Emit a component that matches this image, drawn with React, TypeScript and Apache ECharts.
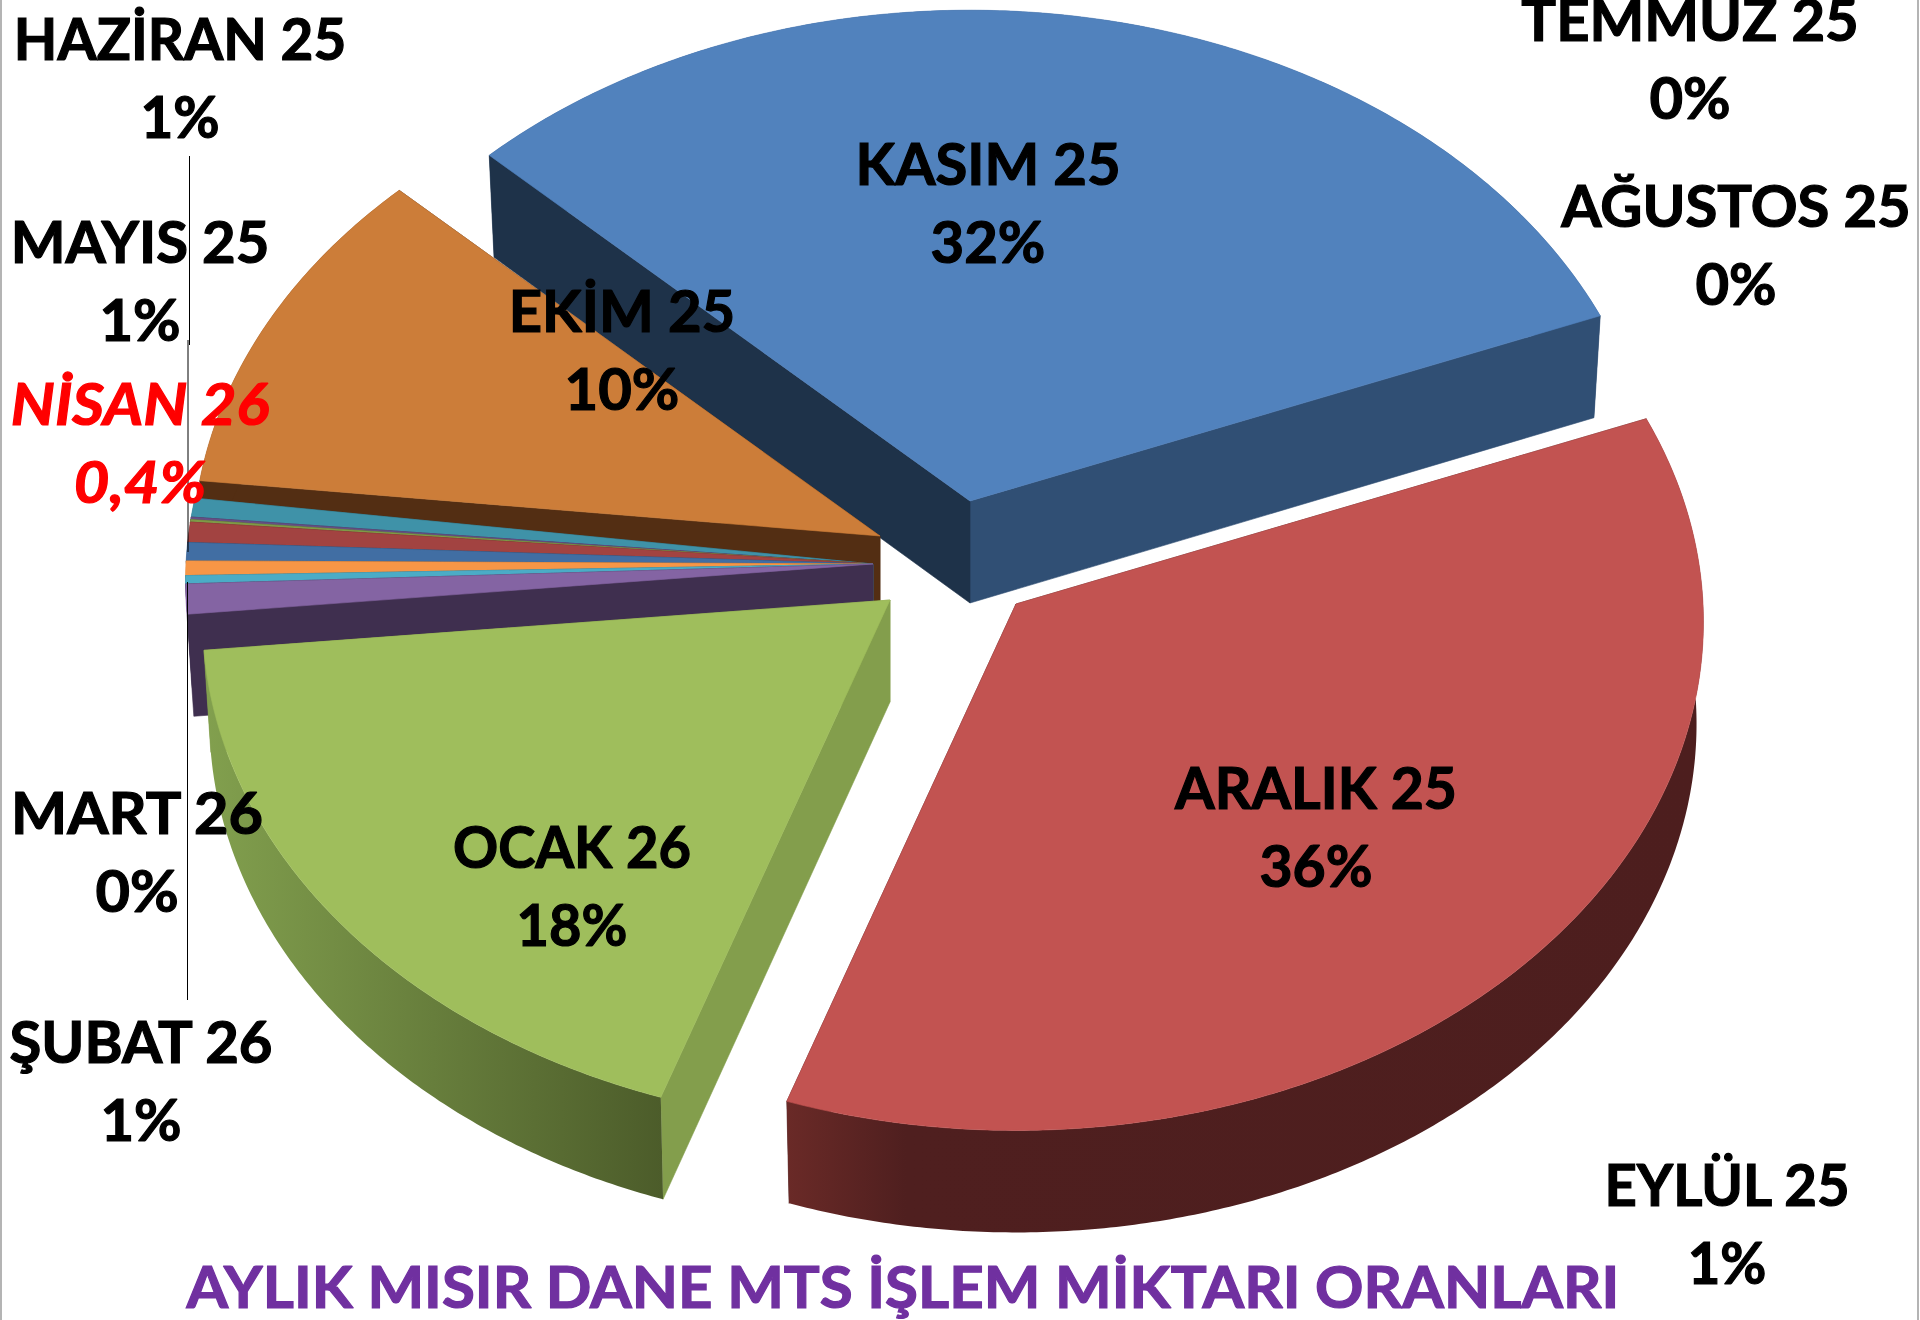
import React, { useEffect, useRef } from "react";
import * as echarts from "echarts";

// Slices clockwise, beginning at the KASIM 25 slice.
const months = ["KASIM 25", "ARALIK 25", "OCAK 26", "ŞUBAT 26", "MART 26", "NİSAN 26", "MAYIS 25", "HAZİRAN 25", "TEMMUZ 25", "AĞUSTOS 25", "EYLÜL 25", "EKİM 25"];
const shares = [31.7, 36.25, 18.2, 0.95, 0.26, 0.46, 0.58, 0.64, 0.08, 0.08, 0.6, 10.2];
const percentLabels = ["32%", "36%", "18%", "1%", "0%", "0,4%", "1%", "1%", "0%", "0%", "1%", "10%"];
const titleText = "AYLIK MISIR DANE MTS İŞLEM MİKTARI ORANLARI";

// Style and layout, indexed like months.
const topColors = ["#5182bd", "#c25351", "#9fbe5c", "#8464a3", "#4bacc6", "#f79646", "#416ea3", "#a24341", "#7f9a48", "#674f85", "#3f92a8", "#cc7d39"];
const wallColors = ["#304f74", "#4d1e1e", "#839e4c", "#3f2f4f", "#2c6475", "#8f5a25", "#263f5f", "#5e2726", "#4b5a2a", "#3c2e4e", "#265a68", "#532e13"];
const cutColors = ["#1e3249", "#4d1e1e", "#839e4c", "#3f2f4f", "#2c6475", "#8f5a25", "#263f5f", "#5e2726", "#4b5a2a", "#3c2e4e", "#265a68", "#532e13"];
const explode: number[][] = [[97, -59], [143, 44], [17, 40], [0, 4], [0, 4], [0, 4], [0, 4], [0, 4], [0, 4], [0, 4], [0, 4], [7, -24]];
const startTweak = [0, 0, 0, 0, 0, 0, 0, 0, 0, 0, 0, -1.2];
const drawOrder = [0, 11, 10, 9, 8, 7, 6, 5, 4, 3, 2, 1];
const labelAt: number[][] = [[988, 201], [1316, 825], [572, 885], [141, 1079], [137, 851], [140, 442], [140, 279], [180, 76], [1690, 57], [1736, 243], [1727, 1223], [622, 348]];
const labelScaleX = [1, 0.985, 0.965, 1, 1.025, 1.06, 1, 0.975, 1, 1, 0.97, 1];

const START_DEG = 314.2, CX = 873, CY = 560, RX = 687, RY = 508, PERSP = 0.035, DEPTH = 102, DEPTH_X = 0.99;
const FONT = "Lato";

const total = shares.reduce((a, b) => a + b, 0);
const startAngles: number[] = [];
shares.reduce((acc, s, i) => {
  startAngles[i] = acc;
  return acc + (s / total) * 360;
}, START_DEG);

function project(deg: number, ox: number, oy: number, low: boolean): number[] {
  const t = (deg * Math.PI) / 180;
  const u = Math.sin(t), v = Math.cos(t);
  const s = 1 / (1 + PERSP * v);
  const dx = RX * u * s * (low ? DEPTH_X : 1);
  const dy = -RY * v * s;
  return [CX + ox + dx, CY + oy + dy + (low ? DEPTH : 0)];
}

function renderItem(_params: any, api: any) {
  const i = api.value(0);
  const [ox, oy] = explode[i];
  const a1 = startAngles[i] + (shares[i] / total) * 360;
  const a0 = startAngles[i] + startTweak[i];
  const steps = Math.max(2, Math.ceil((a1 - a0) / 0.5));
  const arcTop: number[][] = [], arcLow: number[][] = [];
  for (let k = 0; k <= steps; k++) {
    const d = a0 + ((a1 - a0) * k) / steps;
    arcTop.push(project(d, ox, oy, false));
    arcLow.push(project(d, ox, oy, true));
  }
  const apexTop = [CX + ox, CY + oy];
  const apexLow = [CX + ox, CY + oy + DEPTH];
  let wallFill: any = wallColors[i];
  if (i === 1) {
    wallFill = new echarts.graphic.LinearGradient(0, 0, 1, 0, [
      { offset: 0, color: "#6a2a27" },
      { offset: 0.13, color: "#4f1f1f" },
      { offset: 1, color: "#4d1e1e" },
    ]);
  } else if (i === 2) {
    wallFill = new echarts.graphic.LinearGradient(0, 0, 1, 0, [
      { offset: 0, color: "#82a04e" },
      { offset: 1, color: "#4c5c2a" },
    ]);
  }
  const poly = (points: number[][], fill: any, stroke?: any) => ({
    type: "polygon",
    shape: { points },
    style: { fill, stroke: stroke || "none", lineWidth: stroke ? 0.6 : 0 },
  });
  const outerWall = poly([...arcTop, ...arcLow.slice().reverse()], wallFill);
  const endWall = poly([apexTop, arcTop[steps], arcLow[steps], apexLow], wallColors[i], wallColors[i]);
  const startWall = poly([apexTop, arcTop[0], arcLow[0], apexLow], cutColors[i], cutColors[i]);
  const topFace = poly([apexTop, ...arcTop], topColors[i], topColors[i]);
  // The back slice shows its cut faces over its rim; the front slices show the rim over them.
  const children = i === 0 ? [outerWall, endWall, startWall, topFace] : [endWall, startWall, outerWall, topFace];
  return { type: "group", children };
}

function labelElement(i: number) {
  const red = months[i] === "NİSAN 26";
  const fill = red ? "#ff0000" : "#000000";
  return {
    type: "text",
    z: 10,
    x: labelAt[i][0],
    y: labelAt[i][1],
    scaleX: labelScaleX[i],
    style: {
      text: months[i] + "\n" + percentLabels[i],
      fontFamily: FONT,
      fontSize: 58,
      fontWeight: "bold",
      fontStyle: red ? "italic" : "normal",
      lineHeight: 78,
      fill,
      stroke: fill,
      lineWidth: 1.2,
      align: "center",
      verticalAlign: "middle",
    },
  };
}

const leaderLines = [
  [189.5, 156, 189.5, 345],
  [188, 340, 188, 552],
  [187.5, 582, 187.5, 1000],
];

export default function App() {
  const ref = useRef<HTMLDivElement>(null);
  useEffect(() => {
    document.body.style.margin = "0";
    const chart = echarts.init(ref.current!, null, { renderer: "svg" });
    chart.setOption({
      animation: false,
      backgroundColor: "#ffffff",
      series: [
        {
          type: "custom",
          coordinateSystem: "none",
          renderItem,
          data: drawOrder.map((i) => ({ name: months[i], value: [i, shares[i]] })),
          silent: true,
        },
      ],
      graphic: [
        { type: "rect", z: 1, shape: { x: 0, y: 0, width: 2, height: 1320 }, style: { fill: "#b4b4b4" } },
        { type: "rect", z: 1, shape: { x: 1917, y: 0, width: 2, height: 1320 }, style: { fill: "#b4b4b4" } },
        ...leaderLines.map((l) => ({
          type: "line",
          z: 5,
          shape: { x1: l[0], y1: l[1], x2: l[2], y2: l[3] },
          style: { stroke: "#000000", lineWidth: 1 },
        })),
        ...months.map((_, i) => labelElement(i)),
        {
          type: "text",
          z: 10,
          x: 903,
          y: 1286,
          scaleX: 1.035,
          style: {
            text: titleText,
            fontFamily: FONT,
            fontSize: 58,
            fontWeight: "bold",
            fill: "#7030a0",
            stroke: "#7030a0",
            lineWidth: 1.2,
            align: "center",
            verticalAlign: "middle",
          },
        },
      ],
    });
    return () => chart.dispose();
  }, []);
  return <div ref={ref} style={{ position: "absolute", left: 0, top: 0, width: 1920, height: 1320 }} />;
}
